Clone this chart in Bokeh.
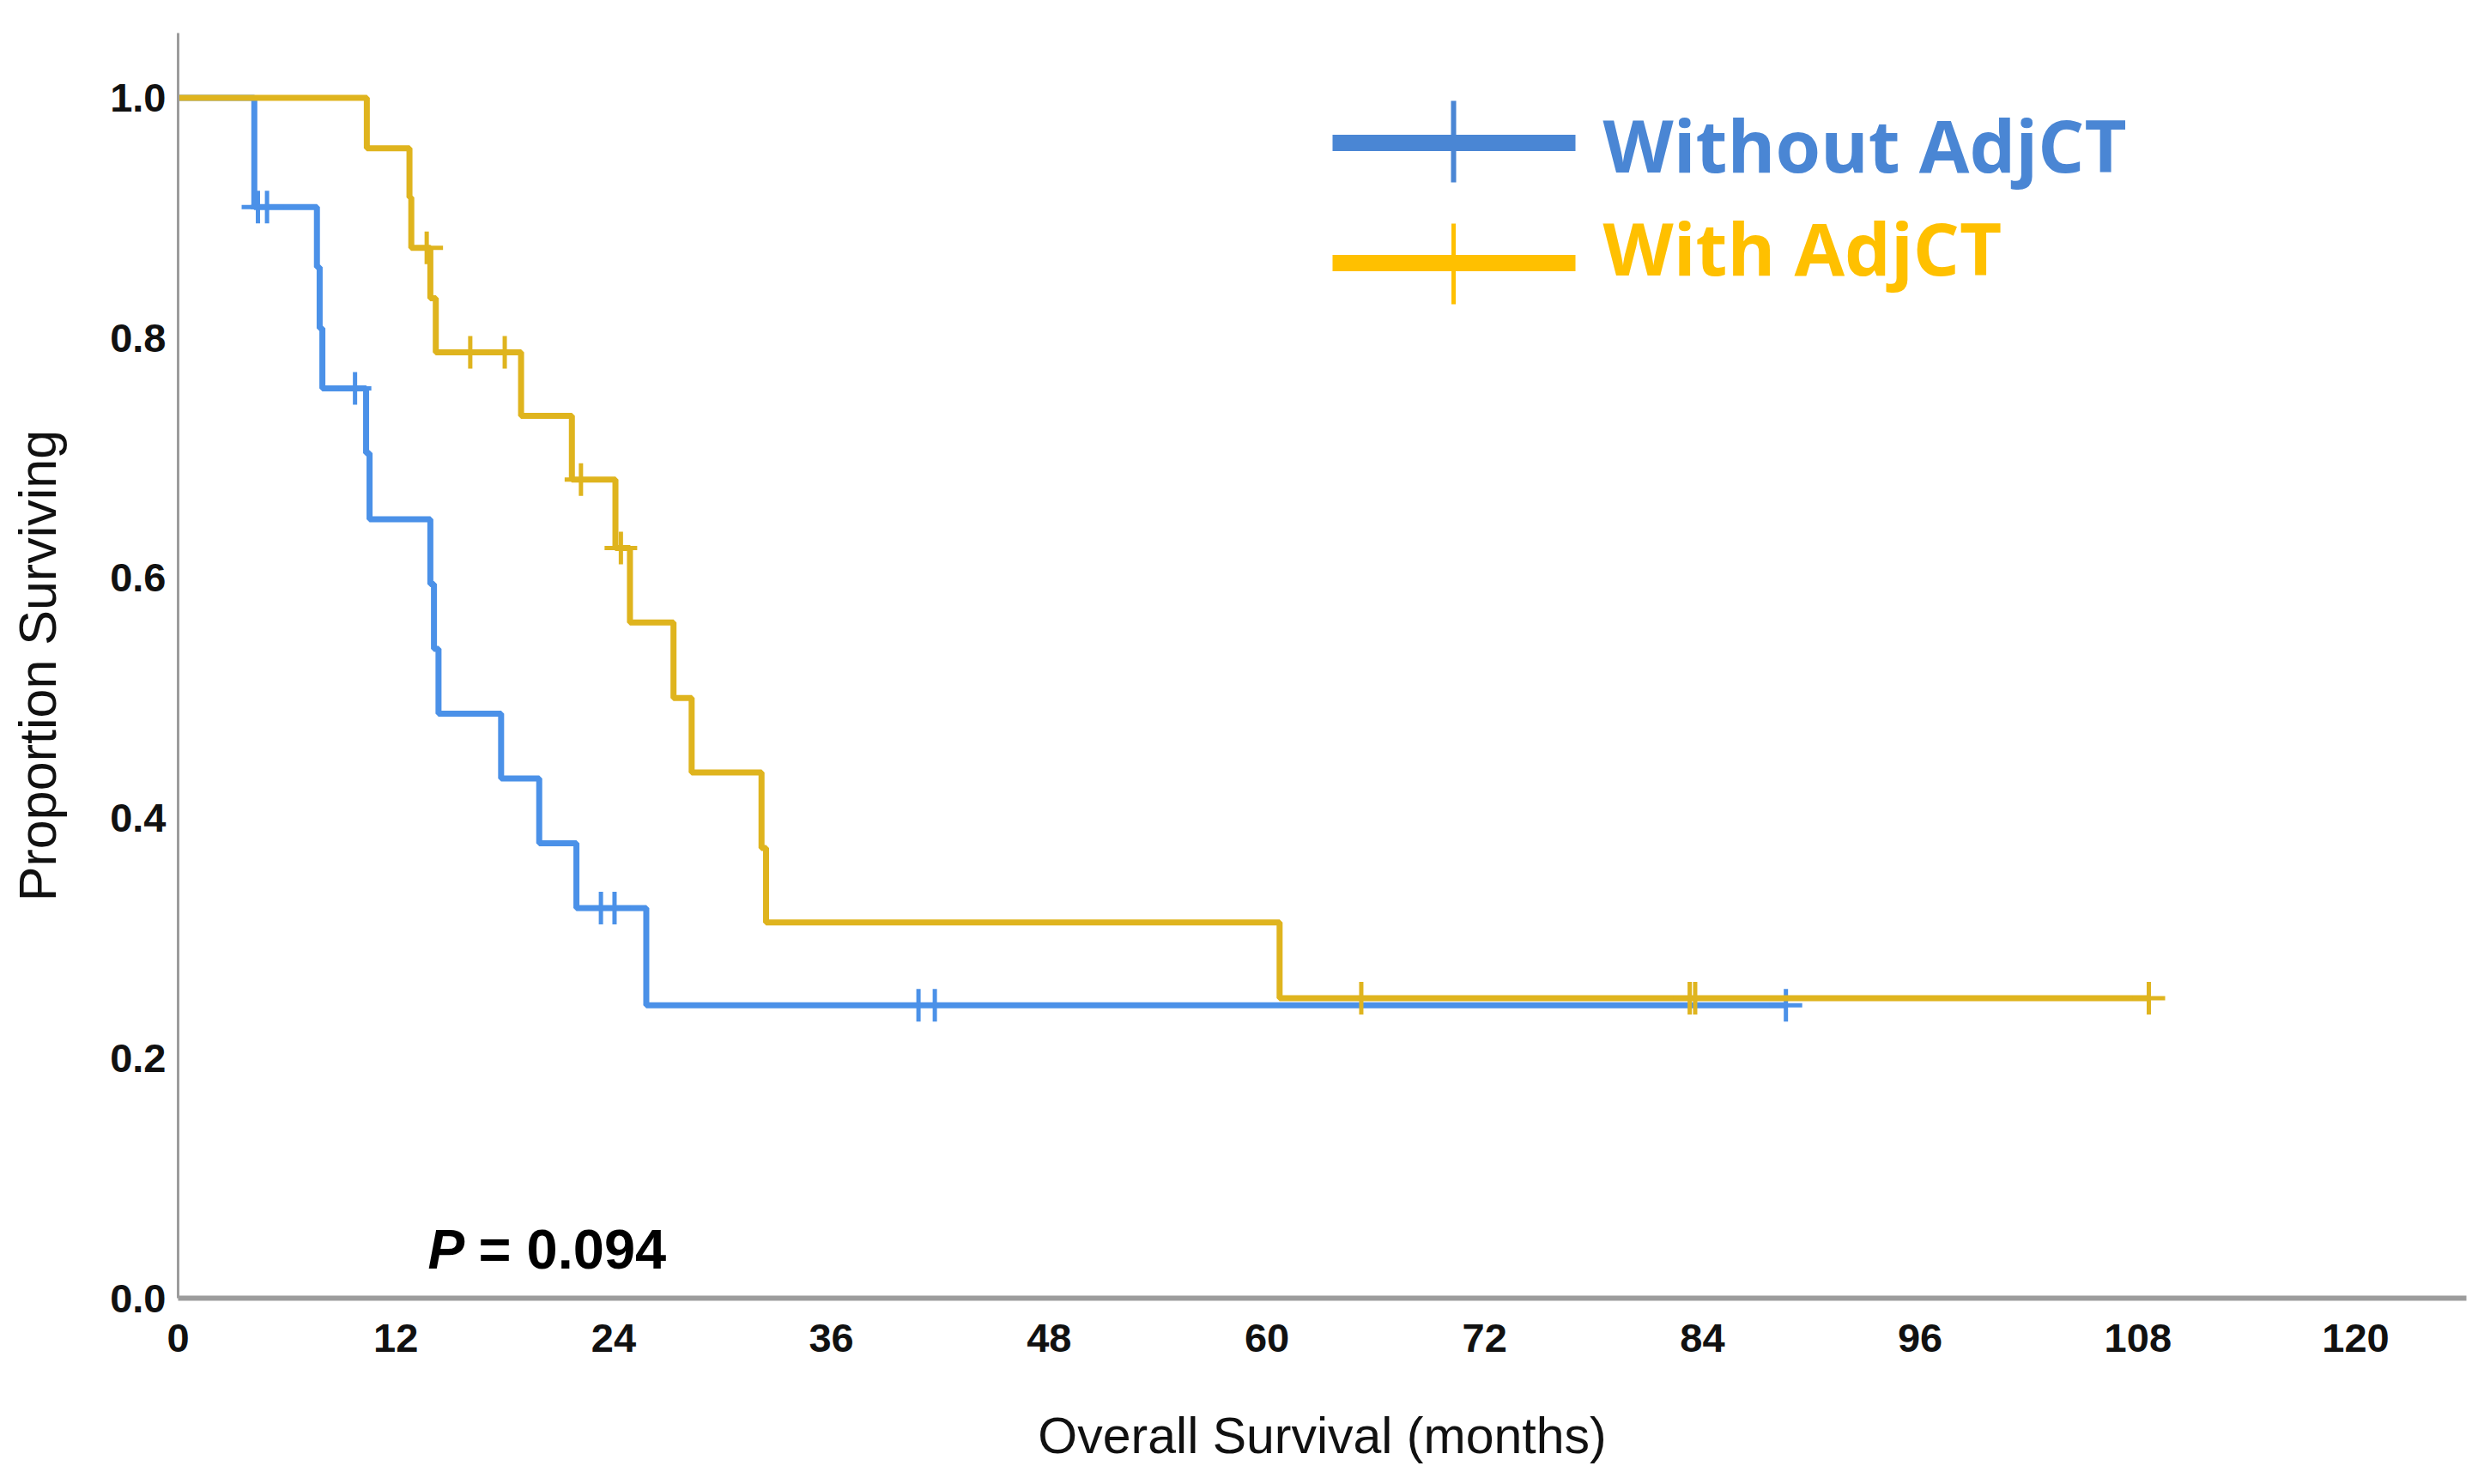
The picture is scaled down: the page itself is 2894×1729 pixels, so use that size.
from bokeh.plotting import figure
from bokeh.models import Range1d, FixedTicker, PrintfTickFormatter, Label, BoxAnnotation
from bokeh.embed import file_html
from bokeh.resources import INLINE

# ---------------- data ----------------
x_ticks = [0, 12, 24, 36, 48, 60, 72, 84, 96, 108, 120]
y_ticks = [0.0, 0.2, 0.4, 0.6, 0.8, 1.0]

# Without AdjCT: event times (months) and survival after each step
without_times = [0, 4.2, 7.65, 7.8, 7.95, 10.36, 10.55, 13.9, 14.1, 14.35, 17.8, 19.9, 21.95, 25.8]
without_surv = [1.0, 0.909, 0.859, 0.808, 0.758, 0.704, 0.649, 0.595, 0.541, 0.487, 0.433, 0.379, 0.325, 0.244]
without_end = 88.6
without_cens_t = [4.4, 4.9, 9.75, 23.3, 24.05, 40.8, 41.7, 88.6]
without_cens_s = [0.909, 0.909, 0.758, 0.325, 0.325, 0.244, 0.244, 0.244]

# With AdjCT
with_times = [0, 10.4, 12.75, 12.85, 13.9, 14.2, 18.9, 21.7, 24.1, 24.9, 27.3, 28.3, 32.15, 32.4, 60.7]
with_surv = [1.0, 0.958, 0.917, 0.875, 0.833, 0.788, 0.735, 0.682, 0.625, 0.563, 0.500, 0.438, 0.375, 0.313, 0.250]
with_end = 108.6
with_cens_t = [13.7, 16.1, 18.0, 22.2, 24.4, 65.2, 83.3, 83.6, 108.6]
with_cens_s = [0.875, 0.788, 0.788, 0.682, 0.625, 0.250, 0.250, 0.250, 0.250]

series_labels = ["Without AdjCT", "With AdjCT"]
p_value_text = "= 0.094"

# ---------------- styles ----------------
BLUE_CURVE = "#4B91E8"
GOLD_CURVE = "#DFB41E"
BLUE_LEG = "#4A86D4"
GOLD_LEG = "#FFC000"
AXIS_GRAY = "#9C9C9C"
TICK_FONT = "Liberation Sans"

p = figure(width=2878, height=1713,
           x_range=Range1d(0, 126.1), y_range=Range1d(0, 1.054),
           output_backend="svg", toolbar_location=None,
           min_border_left=207, min_border_right=5,
           min_border_top=38, min_border_bottom=201)
p.outline_line_color = None
p.xgrid.visible = False
p.ygrid.visible = False
p.background_fill_color = "white"
p.border_fill_color = "white"

# axes
p.xaxis.ticker = FixedTicker(ticks=x_ticks)
p.yaxis.ticker = FixedTicker(ticks=y_ticks)
p.yaxis.formatter = PrintfTickFormatter(format="%.1f")
for ax in (p.xaxis, p.yaxis):
    ax.major_tick_line_color = None
    ax.minor_tick_line_color = None
    ax.major_tick_out = 0
    ax.major_tick_in = 0
    ax.major_label_text_font = TICK_FONT
    ax.major_label_text_font_style = "bold"
    ax.major_label_text_font_size = "47px"
    ax.major_label_text_color = "#111111"
    ax.axis_label_text_font = "Liberation Sans"
    ax.axis_label_text_font_style = "normal"
    ax.axis_label_text_color = "#111111"
    ax.axis_line_color = AXIS_GRAY

p.xaxis.axis_label_text_font_size = "59px"
p.yaxis.axis_label_text_font_size = "61px"
p.xaxis.axis_line_width = 6
p.yaxis.axis_line_width = 3
p.xaxis.major_label_standoff = 30
p.yaxis.major_label_standoff = 14
p.xaxis.axis_label = "Overall Survival (months)"
p.yaxis.axis_label = "Proportion Surviving"
p.xaxis.axis_label_standoff = 62
p.yaxis.axis_label_standoff = 47

# curves (blue first, gold on top)
p.step(without_times + [without_end], without_surv + [without_surv[-1]],
       mode="after", line_color=BLUE_CURVE, line_width=7)
p.scatter(without_cens_t, without_cens_s, marker="cross", size=38,
          line_color=BLUE_CURVE, line_width=5)
p.step(with_times + [with_end], with_surv + [with_surv[-1]],
       mode="after", line_color=GOLD_CURVE, line_width=7)
p.scatter(with_cens_t, with_cens_s, marker="cross", size=38,
          line_color=GOLD_CURVE, line_width=5)

# legend (screen units, relative to plot frame bottom-left)
def box(l, r, b, t, color):
    return BoxAnnotation(left=l, right=r, bottom=b, top=t,
                         left_units="screen", right_units="screen",
                         bottom_units="screen", top_units="screen",
                         fill_color=color, fill_alpha=1.0,
                         line_color=None, line_alpha=0)

p.add_layout(box(1345, 1628, 1336.5, 1355.5, BLUE_LEG))
p.add_layout(box(1483, 1489, 1300, 1395, BLUE_LEG))
p.add_layout(box(1345, 1628, 1196.5, 1215.5, GOLD_LEG))
p.add_layout(box(1483.5, 1488.5, 1158, 1252, GOLD_LEG))

for txt, yb, col in [(series_labels[0], 1345, BLUE_LEG), (series_labels[1], 1225, GOLD_LEG)]:
    p.add_layout(Label(x=1660, y=yb, x_units="screen", y_units="screen", text=txt,
                       text_font="Open Sans", text_font_style="bold",
                       text_font_size="85px", text_color=col,
                       text_align="left", text_baseline="alphabetic"))

# P value
p.add_layout(Label(x=291, y=57, x_units="screen", y_units="screen", text="P",
                   text_font="Liberation Sans", text_font_style="bold italic",
                   text_font_size="64px", text_color="#000000",
                   text_align="left", text_baseline="alphabetic"))
p.add_layout(Label(x=350, y=57, x_units="screen", y_units="screen", text=p_value_text,
                   text_font="Liberation Sans", text_font_style="bold",
                   text_font_size="65px", text_color="#000000",
                   text_align="left", text_baseline="alphabetic"))

open("out.html", "w").write(file_html(p, INLINE))
